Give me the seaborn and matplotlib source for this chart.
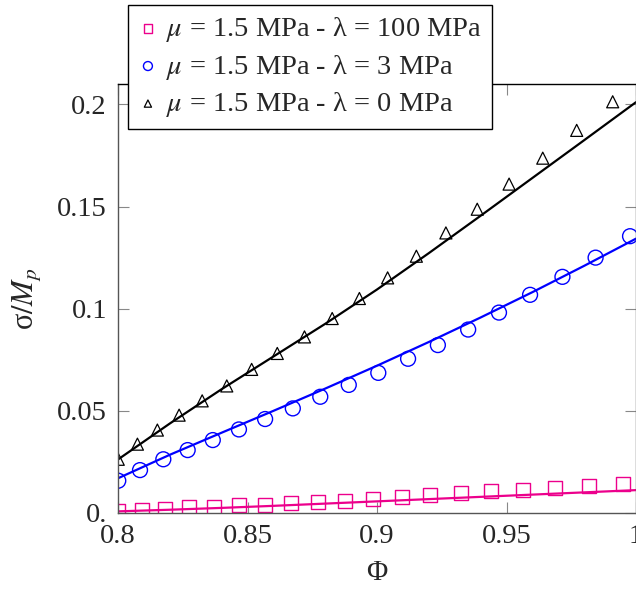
import numpy as np
import pandas as pd
import matplotlib
matplotlib.use("Agg")
import matplotlib.pyplot as plt
import seaborn as sns

sns.set_style("ticks")
plt.rcParams['font.family'] = ['Liberation Serif', 'DejaVu Serif']
plt.rcParams['mathtext.fontset'] = 'stix'

# markers
phi_sq = [0.8001, 0.8092, 0.8181, 0.8275, 0.8371, 0.8467, 0.8568, 0.8668, 0.8772, 0.8876,
          0.8985, 0.9095, 0.9206, 0.9323, 0.9439, 0.9562, 0.9687, 0.9817, 0.9951]
sig_sq = [0.0011, 0.0015, 0.0021, 0.0028, 0.0031, 0.0038, 0.0041, 0.0047, 0.0052, 0.0060,
          0.0068, 0.0078, 0.0087, 0.0096, 0.0106, 0.0114, 0.0122, 0.0132, 0.0140]

phi_ci = [0.8001, 0.8085, 0.8175, 0.8269, 0.8366, 0.8467, 0.8568, 0.8675, 0.8781, 0.8891,
          0.9005, 0.9120, 0.9235, 0.9352, 0.9471, 0.9591, 0.9716, 0.9844, 0.9977]
sig_ci = [0.0158, 0.0210, 0.0263, 0.0308, 0.0357, 0.0409, 0.0460, 0.0512, 0.0569, 0.0627,
          0.0686, 0.0755, 0.0822, 0.0898, 0.0981, 0.1068, 0.1156, 0.1250, 0.1355]

phi_tr = [0.8001, 0.8075, 0.8152, 0.8236, 0.8325, 0.8420, 0.8516, 0.8615, 0.8720, 0.8827,
          0.8932, 0.9041, 0.9152, 0.9266, 0.9387, 0.9510, 0.9640, 0.9771, 0.9910]
sig_tr = [0.0263, 0.0337, 0.0406, 0.0479, 0.0549, 0.0622, 0.0703, 0.0781, 0.0862, 0.0952,
          0.1050, 0.1151, 0.1257, 0.1371, 0.1487, 0.1610, 0.1737, 0.1873, 0.2013]

# model curves
phi_line = [0.80, 0.82, 0.84, 0.86, 0.88, 0.90, 0.92, 0.94, 0.96, 0.98, 1.00]
line_100 = [0.0008, 0.0016, 0.0025, 0.0035, 0.0046, 0.0057, 0.0068, 0.0079, 0.0090, 0.0101, 0.0112]
line_3 = [0.0170, 0.0285, 0.0393, 0.0500, 0.0609, 0.0721, 0.0837, 0.0957, 0.1081, 0.1210, 0.1343]
line_0 = [0.0262, 0.0438, 0.0606, 0.0766, 0.0926, 0.1094, 0.1272, 0.1455, 0.1640, 0.1825, 0.2011]

labels = [r"$\mu$ = 1.5 MPa - λ = 100 MPa",
          r"$\mu$ = 1.5 MPa - λ = 3 MPa",
          r"$\mu$ = 1.5 MPa - λ = 0 MPa"]

pink = '#ec008c'
blue = '#0000ff'
black = '#000000'

fig = plt.figure(figsize=(6.36, 5.89), dpi=100)
ax = fig.add_axes([118/636, 76/589, 518/636, 429/589])

sns.lineplot(x=phi_line, y=line_100, color=pink, lw=1.6, ax=ax)
sns.lineplot(x=phi_line, y=line_3, color=blue, lw=1.6, ax=ax)
sns.lineplot(x=phi_line, y=line_0, color=black, lw=1.6, ax=ax)

sns.scatterplot(x=phi_sq, y=sig_sq, marker='s', s=100, facecolor='none', edgecolor=pink,
                linewidth=1.0, ax=ax, label=labels[0])
sns.scatterplot(x=phi_ci, y=sig_ci, marker='o', s=115, facecolor='none', edgecolor=blue,
                linewidth=1.0, ax=ax, label=labels[1])
sns.scatterplot(x=phi_tr, y=sig_tr, marker='^', s=75, facecolor='none', edgecolor=black,
                linewidth=0.9, ax=ax, label=labels[2])

ax.set_xlim(0.8, 1.0)
ax.set_ylim(0, 0.21)
ax.set_xticks([0.8, 0.85, 0.9, 0.95, 1.0])
ax.set_xticklabels(['0.8', '0.85', '0.9', '0.95', '1'])
ax.set_yticks([0, 0.05, 0.1, 0.15, 0.2])
ax.set_yticklabels(['0.', '0.05', '0.1', '0.15', '0.2'])
ax.tick_params(direction='in', length=8, width=0.8, color='#888888', labelsize=20.5,
               top=True, right=True)
ax.tick_params(axis='x', pad=8)
ax.tick_params(axis='y', pad=8)
for sp in ['left', 'bottom', 'right']:
    ax.spines[sp].set_color('#555555')
ax.spines['top'].set_color('black')
for sp in ax.spines.values():
    sp.set_linewidth(1.0)

ax.set_xlabel('Φ', fontsize=21, labelpad=8)
ax.set_ylabel(r"σ$/M_p$", fontsize=22, labelpad=10)

leg = ax.legend(loc='upper left', bbox_to_anchor=(128/636, 1 - 5/589),
                bbox_transform=fig.transFigure, fontsize=20.5, frameon=True,
                fancybox=False, edgecolor='black', framealpha=1, markerscale=0.6,
                handletextpad=0.3, handlelength=0.7, borderpad=0.35, labelspacing=0.3,
                borderaxespad=0)
leg.get_frame().set_linewidth(1.0)

fig.savefig('out.png', dpi=100)
